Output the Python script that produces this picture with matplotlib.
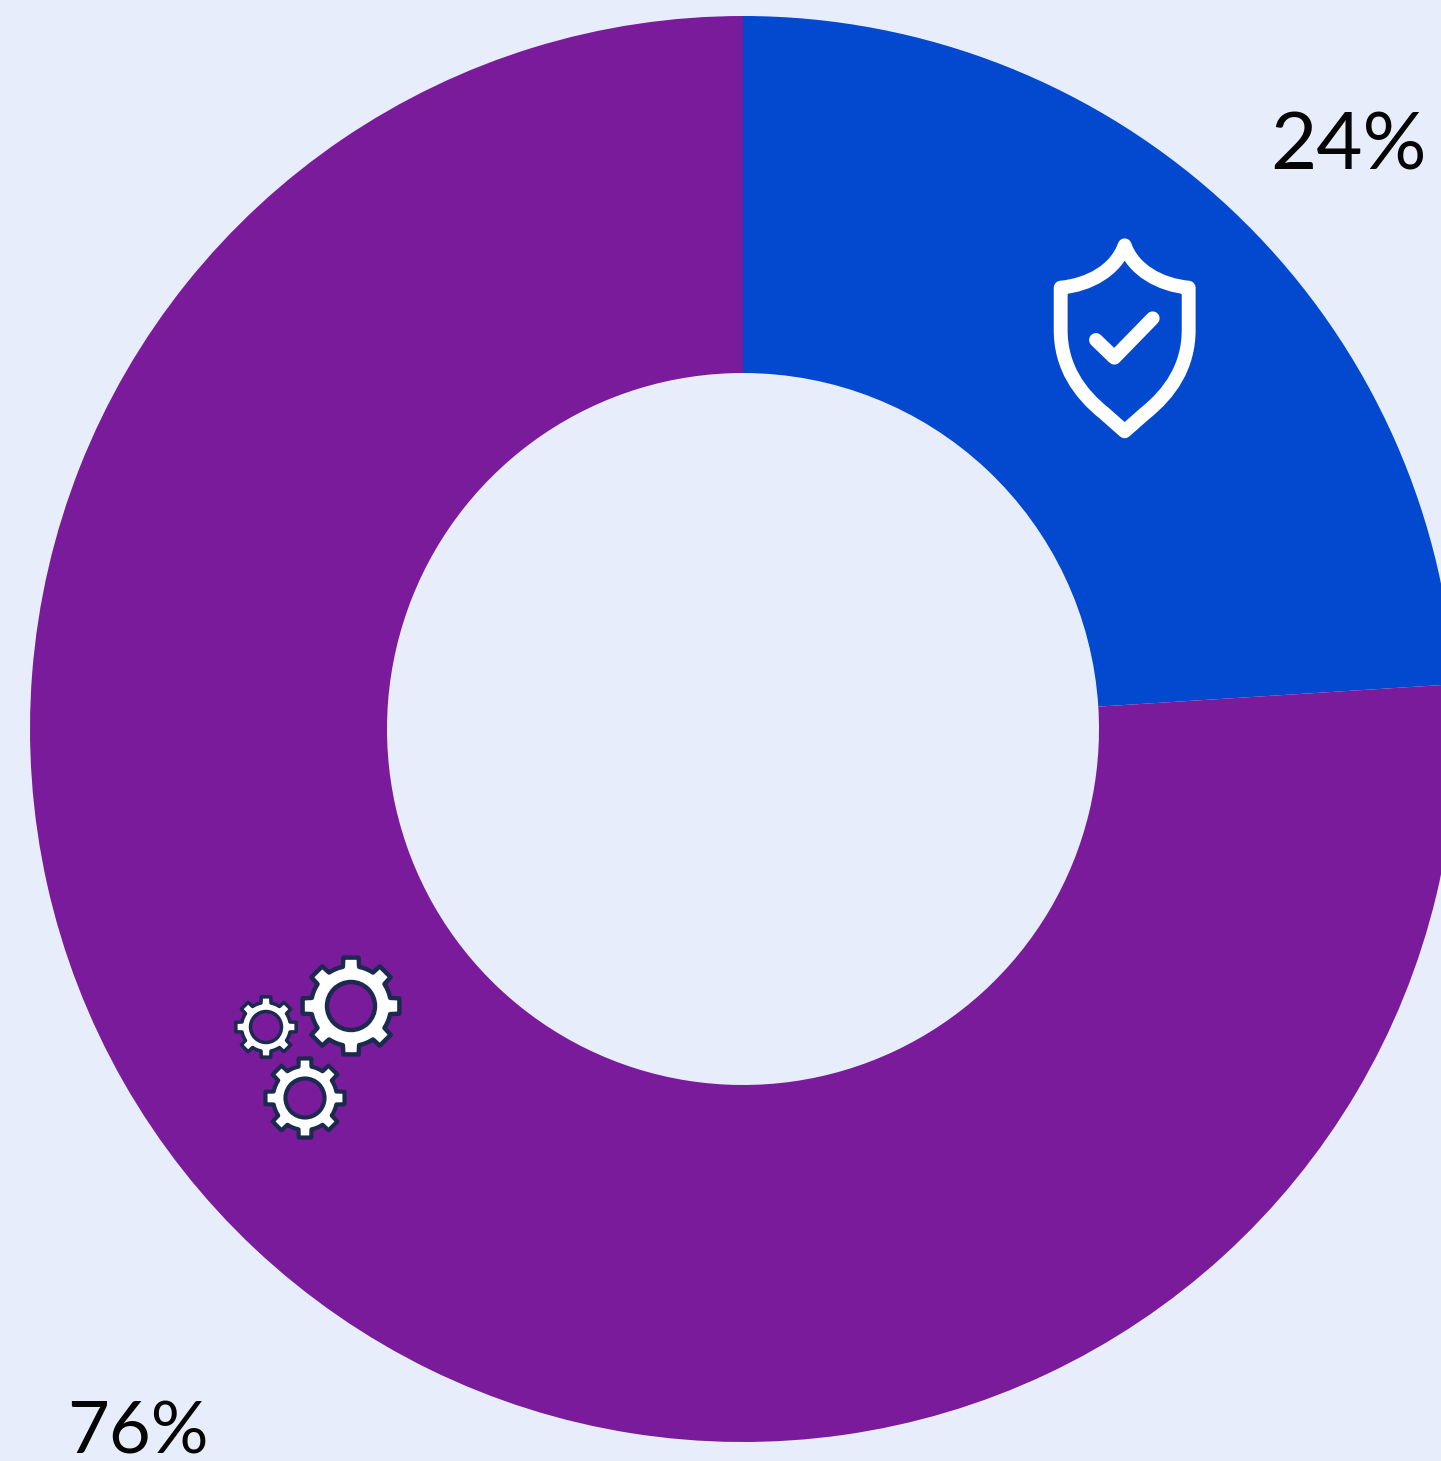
import numpy as np
import matplotlib
matplotlib.use("Agg")
import matplotlib.pyplot as plt
from matplotlib.path import Path
from matplotlib.patches import PathPatch

# data
labels = ["24%", "76%"]
values = [24, 76]
colors = ["#0249CF", "#7A1B9C"]
BG = "#E7EDFB"
NAVY = "#1B2A4E"

W, H = 1441, 1461
fig = plt.figure(figsize=(W / 100, H / 100), dpi=100, facecolor=BG)
ax = fig.add_axes([0, 0, 1, 1])
ax.set_facecolor(BG)

cx, cy, R, r = 743, H - 729, 713, 356
ax.pie(values, colors=colors, startangle=90, counterclock=False, center=(cx, cy), radius=R,
       wedgeprops=dict(width=R - r, linewidth=0), frame=True)
ax.set_xlim(0, W)
ax.set_ylim(0, H)
ax.set_aspect("equal")
ax.axis("off")

font = dict(family="Lato", fontweight="normal", color="#050505")
ax.text(1270, H - 170, labels[0], ha="left", va="baseline", fontsize=57.5, **font)
ax.text(67, H - 1454, labels[1], ha="left", va="baseline", fontsize=52, **font)


def z(x, y):
    """shield sketch coordinates (3x crop) to axes pixels"""
    return (1030 + x / 3, H - (220 + y / 3))


M, L, C, Z = Path.MOVETO, Path.LINETO, Path.CURVE4, Path.CLOSEPOLY
shield = [
    (M, 284, 76), (C, 310, 150), (C, 390, 195), (C, 476, 203), (L, 476, 330),
    (C, 476, 440), (C, 420, 520), (C, 345, 580), (L, 284, 634), (L, 223, 580),
    (C, 148, 520), (C, 92, 440), (C, 92, 330), (L, 92, 203),
    (C, 178, 195), (C, 258, 150), (C, 284, 76), (Z, 284, 76),
]
ax.add_patch(PathPatch(Path([z(a, b) for _, a, b in shield], [c for c, _, _ in shield]),
                       fc="none", ec="white", lw=10, joinstyle="round", capstyle="round"))
check = [(198, 360), (253, 413), (368, 295)]
ax.add_patch(PathPatch(Path([z(*p) for p in check]), fc="none", ec="white", lw=10,
                       joinstyle="round", capstyle="round"))


def gear(x, y, ro, rb, rh, lw, teeth=8):
    y = H - y
    pts = []
    step = 2 * np.pi / teeth
    for i in range(teeth):
        t = np.pi / 2 + i * step
        hw = step * 0.20
        hb = step * 0.26
        pts += [(x + rb * np.cos(t - hb), y + rb * np.sin(t - hb)),
                (x + ro * np.cos(t - hw), y + ro * np.sin(t - hw)),
                (x + ro * np.cos(t + hw), y + ro * np.sin(t + hw)),
                (x + rb * np.cos(t + hb), y + rb * np.sin(t + hb))]
        for a in np.linspace(t + hb, t + step - hb, 5)[1:-1]:
            pts.append((x + rb * np.cos(a), y + rb * np.sin(a)))
    pts.append(pts[0])
    ax.add_patch(plt.Polygon(pts, closed=True, fc="white", ec=NAVY, lw=lw, joinstyle="round"))
    ax.add_patch(plt.Circle((x, y), rh, fc=colors[1], ec=NAVY, lw=lw))


gear(351, 1006, 49, 40, 24, 3.2)
gear(266, 1027, 30.5, 24.5, 15.5, 2.5)
gear(305, 1098, 40, 32, 19.5, 3.0)

fig.savefig("out.png", dpi=100, facecolor=BG)
